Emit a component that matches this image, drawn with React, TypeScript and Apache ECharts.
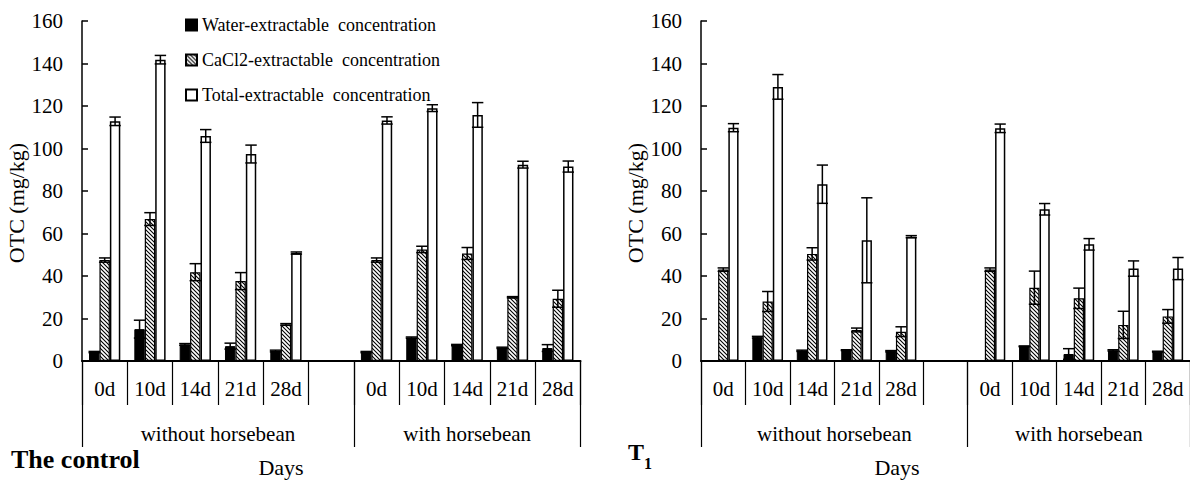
import { useEffect, useRef } from 'react';
import * as echarts from 'echarts';

const FONT = 'Liberation Serif, serif';

// Category (day) labels along the x axis; the empty entry is the gap between groups
const days = ['0d', '10d', '14d', '21d', '28d', '', '0d', '10d', '14d', '21d', '28d'];
const groups = ['without horsebean', 'with horsebean'];
const groupTickValues = [0, 6, 11];
const groupLabelValues = [3, 8.5];
const yTicks = { min: 0, max: 160, interval: 20 };

const seriesNames = [
  'Water-extractable  concentration',
  'CaCl2-extractable  concentration',
  'Total-extractable  concentration',
];

// The control
const controlWater = [4.2, 15, 7.8, 7, 4.7, 0, 4.2, 11, 7.5, 6.2, 6.1];
const controlWaterErr = [0.3, 4.2, 0.4, 1.4, 0.4, 0, 0.3, 0.3, 0.3, 0.3, 1.6];
const controlCaCl2 = [47.5, 66.8, 41.8, 37.6, 17.2, 0, 47.5, 52.5, 50.6, 30, 29.3];
const controlCaCl2Err = [1, 3, 4, 4, 0.4, 0, 1, 1.5, 2.8, 0.3, 4];
const controlTotal = [112.8, 141.8, 105.9, 97.4, 50.8, 0, 113.2, 119, 115.8, 92.4, 91.5];
const controlTotalErr = [2, 2, 3, 4.2, 0.5, 0, 1.7, 1.6, 5.8, 1.6, 2.6];

// T1
const t1Water = [0, 11.2, 4.8, 5.1, 4.6, 0, 0, 6.9, 3.3, 5, 4.4];
const t1WaterErr = [0, 0.4, 0.3, 0.2, 0.3, 0, 0, 0.2, 2.5, 0.3, 0.2];
const t1CaCl2 = [43, 28, 50.4, 14.6, 13.8, 0, 43, 34.5, 29.5, 17, 21];
const t1CaCl2Err = [0.8, 4.7, 2.9, 0.9, 2.3, 0, 0.8, 7.8, 4.8, 6.4, 3.2];
const t1Total = [109.8, 129, 83.2, 56.8, 58.5, 0, 109.5, 71.4, 54.9, 43.5, 43.5];
const t1TotalErr = [1.9, 5.8, 9, 20, 0.5, 0, 2, 2.7, 2.7, 3.6, 5.2];

const BAR_CAT_GAP = 0.31;

function makeHatch() {
  const c = document.createElement('canvas');
  c.width = 4;
  c.height = 4;
  const ctx = c.getContext('2d')!;
  ctx.fillStyle = '#fff';
  ctx.fillRect(0, 0, 4, 4);
  ctx.strokeStyle = '#000';
  ctx.lineWidth = 1.1;
  ctx.beginPath();
  ctx.moveTo(-1, -1);
  ctx.lineTo(5, 5);
  ctx.moveTo(-1, 3);
  ctx.lineTo(1, 5);
  ctx.moveTo(3, -1);
  ctx.lineTo(5, 1);
  ctx.stroke();
  return c;
}

function barSeries(name: string, values: number[], k: number, g: number, hatch: any) {
  const styles = [
    { color: '#000', borderColor: '#000', borderWidth: 1 },
    { color: { image: hatch, repeat: 'repeat', imageWidth: 4, imageHeight: 4 }, borderColor: '#000', borderWidth: 1.2 },
    { color: '#fff', borderColor: '#000', borderWidth: 1.5 },
  ];
  return {
    type: 'bar',
    name,
    xAxisIndex: g * 2,
    yAxisIndex: g,
    data: values,
    barGap: '0%',
    barCategoryGap: BAR_CAT_GAP * 100 + '%',
    itemStyle: styles[k],
    z: 2,
    silent: true,
  };
}

function errSeries(values: number[], errs: number[], k: number, g: number) {
  return {
    type: 'custom',
    xAxisIndex: g * 2,
    yAxisIndex: g,
    data: values.map((v, i) => [i, v, errs[i]]),
    encode: { x: 0, y: 1 },
    z: 5,
    silent: true,
    renderItem: (_p: any, api: any) => {
      const i = api.value(0);
      const v = api.value(1);
      const e = api.value(2);
      if (!(e > 0)) return null;
      const band = api.size([1, 0])[0];
      const w = (band * (1 - BAR_CAT_GAP)) / 3;
      const c = api.coord([i, v]);
      const x = c[0] + (k - 1) * w;
      const yt = api.coord([i, v + e])[1];
      const yb = api.coord([i, v - e])[1];
      const hw = w / 2 + 0.5;
      const style = { stroke: '#000', lineWidth: 1.5, fill: 'none' };
      return {
        type: 'group',
        children: [
          { type: 'line', shape: { x1: x, y1: yt, x2: x, y2: yb }, style },
          { type: 'line', shape: { x1: x - hw, y1: yt, x2: x + hw, y2: yt }, style },
          { type: 'line', shape: { x1: x - hw, y1: yb, x2: x + hw, y2: yb }, style },
        ],
      };
    },
  };
}

export default function App() {
  const ref = useRef<HTMLDivElement>(null);

  useEffect(() => {
    if (!ref.current) return;
    const chart = echarts.init(ref.current, null, { renderer: 'svg' });
    const hatch = makeHatch();

    const grids = [
      { left: 82, top: 21, width: 498.5, height: 340 },
      { left: 701, top: 21, width: 498.5, height: 340 },
    ];

    const xAxes: any[] = [];
    const yAxes: any[] = [];
    grids.forEach((_, g) => {
      xAxes.push({
        type: 'category',
        gridIndex: g,
        data: days,
        position: 'bottom',
        axisLine: { show: true, lineStyle: { color: '#000', width: 2 } },
        axisTick: { show: true, interval: 0, length: 44, lineStyle: { color: '#000', width: 1.2 } },
        axisLabel: { interval: 0, fontFamily: FONT, fontSize: 21, color: '#000', margin: 17 },
        splitLine: { show: false },
      });
      xAxes.push({
        type: 'value',
        gridIndex: g,
        min: 0,
        max: 11,
        position: 'bottom',
        axisLine: { show: false },
        splitLine: { show: false },
        axisTick: { show: true, customValues: groupTickValues, length: 86, lineStyle: { color: '#000', width: 1.2 } },
        axisLabel: {
          customValues: groupLabelValues,
          formatter: (v: number) => groups[groupLabelValues.indexOf(v)] ?? '',
          fontFamily: FONT,
          fontSize: 21,
          color: '#000',
          margin: 62,
        },
      });
      yAxes.push({
        type: 'value',
        gridIndex: g,
        min: yTicks.min,
        max: yTicks.max,
        interval: yTicks.interval,
        name: 'OTC (mg/kg)',
        nameLocation: 'middle',
        nameRotate: 90,
        nameGap: 54,
        nameTextStyle: { fontFamily: FONT, fontSize: 22, color: '#000', padding: [0, 24, 0, 0] },
        axisLine: { show: true, lineStyle: { color: '#000', width: 1.5 } },
        axisTick: { show: true, inside: true, length: 6, lineStyle: { color: '#000', width: 1.5 } },
        axisLabel: { fontFamily: FONT, fontSize: 21, color: '#000', margin: 19 },
        splitLine: { show: false },
      });
    });

    const sets = [
      [[controlWater, controlWaterErr], [controlCaCl2, controlCaCl2Err], [controlTotal, controlTotalErr]],
      [[t1Water, t1WaterErr], [t1CaCl2, t1CaCl2Err], [t1Total, t1TotalErr]],
    ];
    const series: any[] = [];
    sets.forEach((set, g) => {
      set.forEach(([vals], k) => series.push(barSeries(seriesNames[k], vals, k, g, hatch)));
      set.forEach(([vals, errs], k) => series.push(errSeries(vals, errs, k, g)));
    });

    chart.setOption({
      animation: false,
      backgroundColor: '#fff',
      textStyle: { fontFamily: FONT },
      grid: grids,
      xAxis: xAxes,
      yAxis: yAxes,
      legend: {
        data: seriesNames,
        orient: 'vertical',
        left: 180,
        top: 10,
        itemWidth: 11,
        itemHeight: 11,
        itemGap: 15,
        icon: 'rect',
        selectedMode: false,
        textStyle: { fontFamily: FONT, fontSize: 18, color: '#000', lineHeight: 20 },
      },
      graphic: [
        { type: 'text', x: 11, y: 459, style: { text: 'The control', font: `bold 26px ${FONT}`, fill: '#000', verticalAlign: 'middle', align: 'left' } },
        { type: 'text', x: 628, y: 452, style: { text: 'T', font: `bold 24px ${FONT}`, fill: '#000', verticalAlign: 'middle', align: 'left' } },
        { type: 'text', x: 644, y: 463, style: { text: '1', font: `bold 16px ${FONT}`, fill: '#000', verticalAlign: 'middle', align: 'left' } },
        { type: 'text', x: 281, y: 467, style: { text: 'Days', font: `22px ${FONT}`, fill: '#000', verticalAlign: 'middle', align: 'center' } },
        { type: 'text', x: 897, y: 467, style: { text: 'Days', font: `22px ${FONT}`, fill: '#000', verticalAlign: 'middle', align: 'center' } },
      ],
      series,
    });

    return () => chart.dispose();
  }, []);

  return (
    <div
      ref={ref}
      style={{ position: 'absolute', left: 0, top: 0, width: 1190, height: 482, background: '#fff' }}
    />
  );
}
